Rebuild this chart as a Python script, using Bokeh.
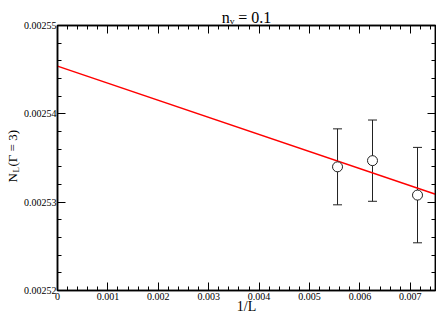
import math
from bokeh.plotting import figure
from bokeh.layouts import row
from bokeh.models import (ColumnDataSource, Whisker, TeeHead, FixedTicker, LinearAxis,
                          PrintfTickFormatter, Label, Range1d)
from bokeh.embed import file_html
from bokeh.resources import INLINE

# ---- data ----
inv_L = [0.005556, 0.00625, 0.007143]
N_L = [0.0025340, 0.0025347, 0.0025308]
N_err = [0.0000043, 0.0000046, 0.0000054]
fit_x = [0.0, 0.0075]
fit_y = [0.0025454, 0.0025309]
x_ticks = [0.0, 0.001, 0.002, 0.003, 0.004, 0.005, 0.006, 0.007]
y_ticks = [0.00252, 0.00253, 0.00254, 0.00255]
x_range = (0.0, 0.0075)
y_range = (0.00252, 0.00255)
title_text = "n\u1d65 = 0.1"
ylabel_parts = ["N", "L", "(Γ = 3)"]
xlabel = "1/L"

FONT = "Liberation Serif"
W, H = 436, 316
YW = 20          # y-label strip width
MW = W - YW      # main figure width

# ---- main plot ----
p = figure(width=MW, height=H, output_backend="svg", toolbar_location=None,
           x_range=Range1d(*x_range), y_range=Range1d(*y_range),
           min_border_left=57 - YW, min_border_right=1, min_border_top=25, min_border_bottom=26,
           background_fill_color="white", border_fill_color="white")
p.title.text = title_text
p.title.align = "center"
p.title.text_font = FONT
p.title.text_font_size = "16px"
p.title.text_font_style = "normal"
p.title.text_color = "black"
p.title.standoff = 0
p.xgrid.visible = False
p.ygrid.visible = False
p.outline_line_color = "black"
p.outline_line_width = 1.5

x_minor = [v * 0.0002 for v in range(38)]
y_minor = [y_range[0] + i * 0.000002 for i in range(16)]
xt = FixedTicker(ticks=x_ticks, minor_ticks=x_minor)
yt = FixedTicker(ticks=y_ticks, minor_ticks=y_minor)


def style(ax, labels=True):
    ax.axis_line_color = "black"
    ax.axis_line_width = 1.5
    ax.major_tick_in = 8
    ax.major_tick_out = 0
    ax.minor_tick_in = 4
    ax.minor_tick_out = 0
    ax.major_tick_line_color = "black"
    ax.minor_tick_line_color = "black"
    ax.major_tick_line_width = 1
    ax.minor_tick_line_width = 1
    ax.major_label_text_font = FONT
    ax.major_label_text_font_size = "10px" if labels else "0px"
    ax.major_label_text_color = "black"
    if not labels:
        ax.major_label_text_alpha = 0
        ax.major_label_standoff = 0


xa = p.xaxis[0]
xa.ticker = xt
xa.formatter = PrintfTickFormatter(format="%.3f")
xa.major_label_overrides = {0: "0"}
style(xa)
xa.major_label_standoff = 2
xa.axis_label = xlabel
xa.axis_label_text_font = FONT
xa.axis_label_text_font_size = "14px"
xa.axis_label_text_font_style = "normal"
xa.axis_label_text_color = "black"
xa.axis_label_standoff = -4

ya = p.yaxis[0]
ya.ticker = yt
ya.formatter = PrintfTickFormatter(format="%.5f")
style(ya)
ya.major_label_standoff = 1

top = LinearAxis(ticker=xt)
style(top, labels=False)
top.major_label_standoff = 7
p.add_layout(top, "above")
right = LinearAxis(ticker=yt)
style(right, labels=False)
p.add_layout(right, "right")

p.line(fit_x, fit_y, line_color="red", line_width=1.5)

src = ColumnDataSource(data=dict(
    x=inv_L, y=N_L,
    lo=[a - b for a, b in zip(N_L, N_err)],
    hi=[a + b for a, b in zip(N_L, N_err)],
))
wh = Whisker(source=src, base="x", lower="lo", upper="hi", dimension="height",
             line_color="#222222", line_width=1,
             upper_head=TeeHead(size=9, line_color="#222222", line_width=1),
             lower_head=TeeHead(size=9, line_color="#222222", line_width=1))
p.add_layout(wh)
p.scatter("x", "y", source=src, marker="circle", size=10,
          fill_color="white", line_color="#222222", line_width=1)

# ---- y label strip: N_L (Γ = 3); its frame lines up with the main frame ----
yl = figure(width=YW, height=H, output_backend="svg", toolbar_location=None,
            x_axis_location=None, y_axis_location=None,
            min_border=0, min_border_left=0, min_border_right=0,
            min_border_top=0, min_border_bottom=0,
            background_fill_color="white", border_fill_color="white")
yl.title.visible = False
yl.xgrid.visible = False
yl.ygrid.visible = False
yl.outline_line_color = None


def put(f, text, x, y, size, angle=0.0):
    f.add_layout(Label(x=x, y=y, x_units="screen", y_units="screen", text=text,
                       text_font=FONT, text_font_size=size, text_color="black",
                       text_align="left", text_baseline="alphabetic", angle=angle))


ang = math.pi / 2
put(yl, ylabel_parts[0], 12, 108, "13px", ang)
put(yl, ylabel_parts[1], 15.5, 118, "9px", ang)
put(yl, ylabel_parts[2], 12, 124, "13px", ang)

layout = row(yl, p, spacing=0)
open("out.html", "w").write(file_html(layout, INLINE))
